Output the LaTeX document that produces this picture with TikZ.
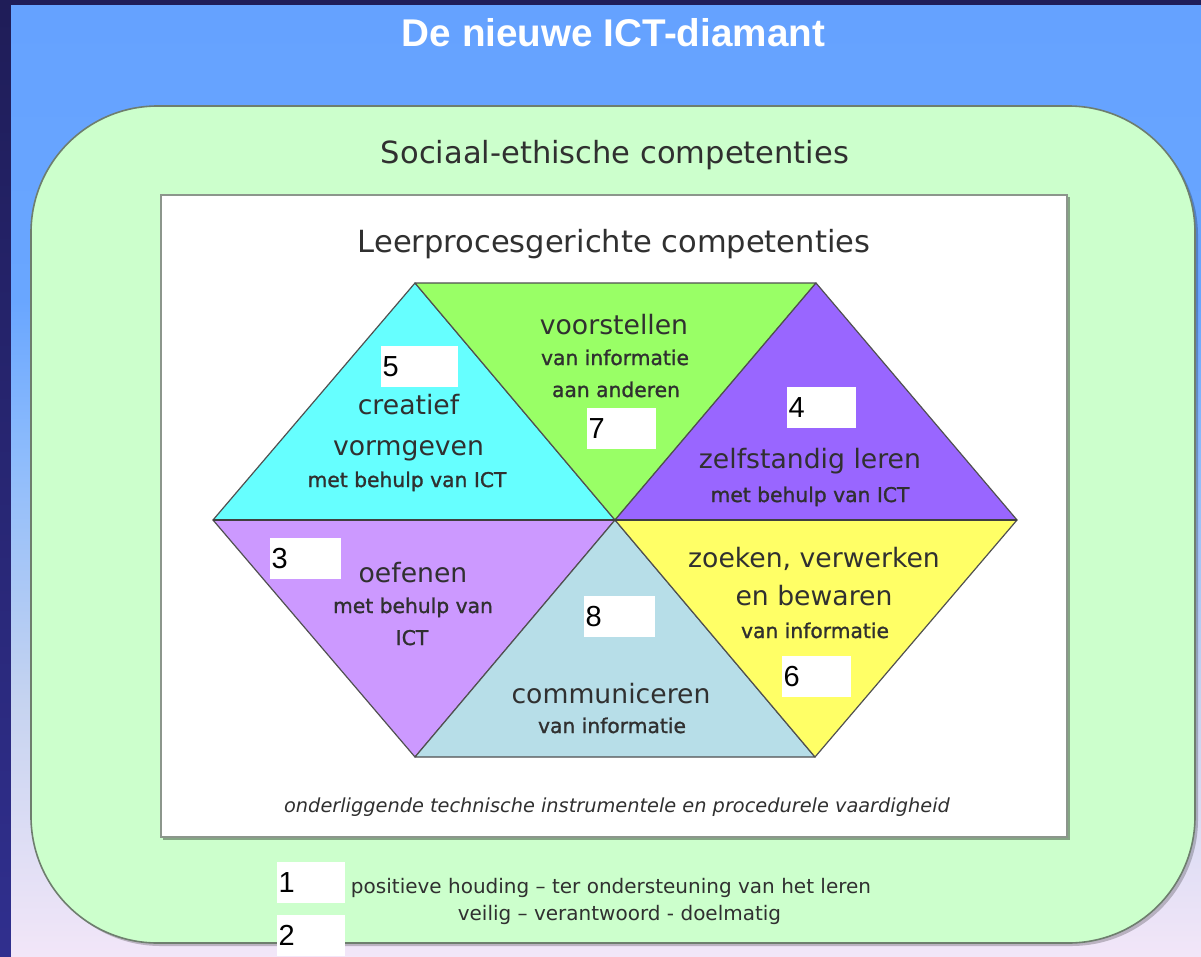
\documentclass[tikz,border=0pt]{standalone}
\usepackage{fontspec}
\setmainfont{DejaVu Sans}
\newfontfamily\titlefont{Liberation Sans}
\newfontfamily\numfont{Liberation Sans}
\newfontfamily\medfont[FakeBold=1.2]{DejaVu Sans}
\definecolor{navyA}{HTML}{1F1D58}
\definecolor{navyB}{HTML}{302F8E}
\definecolor{bgA}{HTML}{65A2FF}
\definecolor{bgB}{HTML}{69A6FF}
\definecolor{bgC}{HTML}{8CBBFC}
\definecolor{bgD}{HTML}{C5D3F0}
\definecolor{bgE}{HTML}{F2E6F8}
\definecolor{greenbox}{HTML}{CCFFCC}
\definecolor{greenedge}{HTML}{6E7E6E}
\definecolor{whiteedge}{HTML}{8C968C}
\definecolor{tcyan}{HTML}{66FFFF}
\definecolor{tgreen}{HTML}{99FF66}
\definecolor{tpurple}{HTML}{9966FF}
\definecolor{tlilac}{HTML}{CC99FF}
\definecolor{tgrey}{HTML}{B7DEE8}
\definecolor{tyellow}{HTML}{FFFF66}
\definecolor{txt}{HTML}{303030}
\definecolor{edge}{HTML}{505050}
\pgfdeclareverticalshading{slidebg}{100bp}{color(0bp)=(bgE); color(25bp)=(bgE); color(38.5bp)=(bgD); color(51.6bp)=(bgC); color(59.5bp)=(bgB); color(75bp)=(bgA); color(100bp)=(bgA)}
\tikzset{
  lbl/.style={anchor=base, inner sep=0pt, text=txt},
  titletext/.style={anchor=base, inner sep=0pt, text=white, font=\titlefont\bfseries\fontsize{29}{29}\selectfont},
  headtext/.style={lbl, font=\fontsize{22.9}{22.9}\selectfont},
  bigtext/.style={lbl, font=\fontsize{20}{20}\selectfont},
  smalltext/.style={lbl, font=\medfont\fontsize{15.2}{15.2}\selectfont},
  ittext/.style={lbl, font=\itshape\fontsize{14.5}{14.5}\selectfont},
  foottext/.style={lbl, font=\fontsize{15}{15}\selectfont},
  numbox/.style={anchor=north west, fill=white, inner xsep=1.1pt, inner ysep=0pt,
    minimum height=30.75pt, text width=#1, align=left, text=black,
    font=\numfont\fontsize{21.75}{21.75}\selectfont},
  tri/.style={draw=edge, line width=0.9pt, line join=round},
}
\begin{document}
\begin{tikzpicture}[x=0.75pt,y=-0.75pt]
\useasboundingbox (0,0) rectangle (1201,956);
% background
\shade[top color=navyA, bottom color=navyB] (0,0) rectangle (1201,956);
\shade[shading=slidebg] (11,6) rectangle (1201,956);
% title
\node[titletext] (title) at (613.5,47) {De nieuwe ICT-diamant};
% green rounded box
\fill[black, opacity=0.22, rounded corners=95pt] (34,109) rectangle (1198,946);
\draw[fill=greenbox, draw=greenedge, line width=1.2pt, rounded corners=95pt] (31,106) rectangle (1195,943);
\node[headtext] (soc) at (615,163) {Sociaal-ethische competenties};
% white box
\fill[black, opacity=0.35] (163,197) rectangle (1070,840);
\draw[fill=white, draw=whiteedge, line width=1pt] (161,195) rectangle (1067,837);
\node[headtext] (leer) at (614,252) {Leerprocesgerichte competenties};
% hexagon vertices
\coordinate (TL) at (415,283);
\coordinate (TR) at (816,283);
\coordinate (L) at (213,520);
\coordinate (R) at (1017,520);
\coordinate (BL) at (415,757);
\coordinate (BR) at (815,757);
\coordinate (C) at (615,520);
\filldraw[tri, fill=tcyan] (L) -- (TL) -- (C) -- cycle;
\filldraw[tri, fill=tgreen] (TL) -- (TR) -- (C) -- cycle;
\filldraw[tri, fill=tpurple] (C) -- (TR) -- (R) -- cycle;
\filldraw[tri, fill=tlilac] (L) -- (C) -- (BL) -- cycle;
\filldraw[tri, fill=tgrey] (BL) -- (C) -- (BR) -- cycle;
\filldraw[tri, fill=tyellow] (C) -- (R) -- (BR) -- cycle;
\draw[draw=edge!80!black, line width=1.6pt] (L) -- (R);
% cyan
\node[numbox=55.5pt] (n5) at (381,346) {5};
\node[bigtext] (cre1) at (408.5,414) {creatief};
\node[bigtext] (cre2) at (408.5,455) {vormgeven};
\node[smalltext] (cre3) at (407,487) {met behulp van ICT};
% green
\node[bigtext] (voo1) at (614,334) {voorstellen};
\node[smalltext] (voo2) at (615,365) {van informatie};
\node[smalltext] (voo3) at (616,397) {aan anderen};
\node[numbox=49.5pt] (n7) at (587,408) {7};
% purple
\node[numbox=49.5pt] (n4) at (787,387) {4};
\node[bigtext] (zel1) at (810,468) {zelfstandig leren};
\node[smalltext] (zel2) at (810,502) {met behulp van ICT};
% lilac
\node[numbox=51pt] (n3) at (270,538) {3};
\node[bigtext] (oef1) at (413,582) {oefenen};
\node[smalltext] (oef2) at (413,613) {met behulp van};
\node[smalltext] (oef3) at (412,645) {ICT};
% grey-blue
\node[numbox=51pt] (n8) at (584,596) {8};
\node[bigtext] (com1) at (611,703) {communiceren};
\node[smalltext] (com2) at (612,733) {van informatie};
% yellow
\node[bigtext] (zoe1) at (814,567) {zoeken, verwerken};
\node[bigtext] (zoe2) at (814,605) {en bewaren};
\node[smalltext] (zoe3) at (815,638) {van informatie};
\node[numbox=49.5pt] (n6) at (782,656) {6};
% underlying
\node[ittext] (onder) at (617,812) {onderliggende technische instrumentele en procedurele vaardigheid};
% bottom
\node[numbox=48.8pt] (n1) at (277,862) {1};
\node[numbox=48.8pt] (n2) at (277,915) {2};
\node[foottext] (pos) at (611,893) {positieve houding – ter ondersteuning van het leren};
\node[foottext] (vei) at (619.5,920) {veilig – verantwoord - doelmatig};
\end{tikzpicture}
\end{document}
